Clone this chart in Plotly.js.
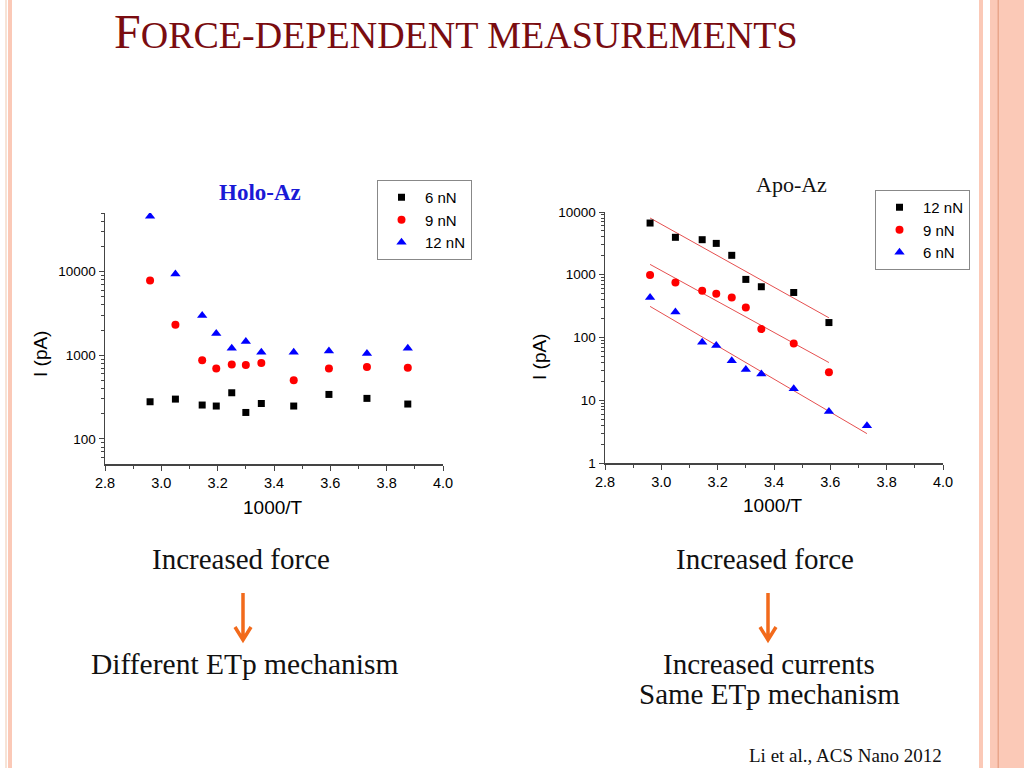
<!DOCTYPE html>
<html>
<head>
<meta charset="utf-8">
<script src="https://cdn.plot.ly/plotly-3.0.1.min.js"></script>
<style>
  html, body { margin: 0; padding: 0; background: #fff; }
  #chart { width: 1024px; height: 768px; }
</style>
</head>
<body>
<div id="chart"></div>
<script>
// 1000/T positions (same temperatures for every series)
const invT = [2.96, 3.05, 3.145, 3.195, 3.25, 3.30, 3.355, 3.47, 3.595, 3.73, 3.875];

// Holo-Az currents (pA)
const holo6nN = [278, 299, 254, 247, 356, 207, 265, 247, 340, 305, 261];
const holo9nN = [7800, 2310, 871, 692, 773, 766, 809, 501, 692, 724, 711];
const holo12nN = [45700, 9380, 2990, 1820, 1213, 1459, 1087, 1087, 1127, 1047, 1213];

// Apo-Az currents (pA)
const apo12nN = [6670, 3950, 3620, 3160, 2040, 843, 644, 522, 173];
const apo9nN = [988, 755, 556, 497, 435, 301, 136, 80, 28];
const apo6nN = [435, 254, 84, 74.5, 42.5, 30.9, 26.3, 15.2, 6.6, 3.94];

// Apo-Az linear fits (end points)
const fitX12 = [2.96, 3.595], fit12 = [8020, 206];
const fitX9 = [2.96, 3.595], fit9 = [1462, 39.9];
const fitX6 = [2.96, 3.73], fit6 = [313, 2.94];

const BLACK = '#000000', RED = '#ff0000', BLUE = '#0000ff';
const sq = {symbol: 'square', size: 7, color: BLACK};
const ci = {symbol: 'circle', size: 8, color: RED};
const tr = {symbol: 'triangle-up', size: 9, color: BLUE};

function pts(x, y, name, marker, xa, ya, legend) {
    return {x: x, y: y, name: name, mode: 'markers', type: 'scatter',
            marker: marker, xaxis: xa, yaxis: ya, legend: legend};
}
function fit(x, y) {
    return {x: x, y: y, mode: 'lines', type: 'scatter', showlegend: false,
            line: {color: '#e23b3b', width: 0.9}, xaxis: 'x2', yaxis: 'y2', hoverinfo: 'skip'};
}

const traces = [
    pts(invT, holo6nN, '6 nN', sq, 'x', 'y', 'legend'),
    pts(invT, holo9nN, '9 nN', ci, 'x', 'y', 'legend'),
    pts(invT, holo12nN, '12 nN', tr, 'x', 'y', 'legend'),
    fit(fitX12, fit12),
    fit(fitX9, fit9),
    fit(fitX6, fit6),
    pts(invT.slice(0, apo12nN.length), apo12nN, '12 nN', sq, 'x2', 'y2', 'legend2'),
    pts(invT.slice(0, apo9nN.length), apo9nN, '9 nN', ci, 'x2', 'y2', 'legend2'),
    pts(invT.slice(0, apo6nN.length), apo6nN, '6 nN', tr, 'x2', 'y2', 'legend2')
];

const sans = 'Liberation Sans, Arial, sans-serif';
const serif = 'Liberation Serif, Times New Roman, serif';
function xax(domain, anchor) {
    return {domain: domain, anchor: anchor, range: [2.8, 4.0], dtick: 0.2, tickformat: '.1f',
            showgrid: false, zeroline: false, showline: true, linecolor: '#444', linewidth: 1.5,
            ticks: 'outside', ticklen: 5, tickwidth: 1, tickcolor: '#444',
            tickfont: {family: sans, size: 14.5, color: '#000'},
            minor: {dtick: 0.1, ticks: 'outside', ticklen: 3, tickcolor: '#444'}};
}
function yax(domain, anchor, range) {
    return {domain: domain, anchor: anchor, type: 'log', range: range, dtick: 1,
            tickformat: 'd', showgrid: false, zeroline: false, showline: true,
            linecolor: '#444', linewidth: 1.5, ticks: 'outside', ticklen: 5, tickwidth: 1,
            tickcolor: '#444', tickfont: {family: sans, size: 13.5, color: '#000'},
            minor: {dtick: 'D1', ticks: 'outside', ticklen: 3, tickcolor: '#444'}};
}
function px(v) { return v / 1024; }
function py(v) { return 1 - v / 768; }

function note(text, x, y, size, extra) {
    return Object.assign({text: text, x: px(x), y: py(y), xref: 'paper', yref: 'paper',
            showarrow: false, xanchor: 'center', yanchor: 'middle',
            font: {family: serif, size: size, color: '#111'}}, extra || {});
}
function label(text, x, y, angle) {
    return note(text, x, y, 19, {textangle: angle || 0, font: {family: sans, size: 19, color: '#000'}});
}

const PINK = '#fbc9b7';
function band(x0, x1, color) {
    return {type: 'rect', xref: 'paper', yref: 'paper', x0: px(x0), x1: px(x1), y0: 0, y1: 1,
            fillcolor: color, line: {width: 0}, layer: 'below'};
}
function arrow(x, y0, y1) {
    const path = 'M' + px(x) + ',' + py(y0) + ' L' + px(x) + ',' + py(y1) +
        ' M' + px(x - 8) + ',' + py(y1 - 13) + ' L' + px(x) + ',' + py(y1) + ' L' + px(x + 8) + ',' + py(y1 - 13);
    return {type: 'path', xref: 'paper', yref: 'paper', path: path,
            line: {color: '#f26a1b', width: 3.5}};
}

const legendBase = {bgcolor: '#fff', bordercolor: '#888', borderwidth: 1,
    font: {family: sans, size: 15, color: '#000'}, xanchor: 'left', yanchor: 'top',
    itemwidth: 37, tracegroupgap: 0};

const layout = {
    width: 1024, height: 768,
    margin: {l: 0, r: 0, t: 0, b: 0},
    paper_bgcolor: '#fff', plot_bgcolor: 'rgba(0,0,0,0)',
    showlegend: true,
    xaxis: xax([px(105), px(443)], 'y'),
    yaxis: yax([py(464), py(213)], 'x', [1.7, 4.7]),
    xaxis2: xax([px(605), px(943)], 'y2'),
    yaxis2: yax([py(463), py(212)], 'x2', [0, 4]),
    legend: Object.assign({x: px(377), y: py(180)}, legendBase),
    legend2: Object.assign({x: px(875), y: py(190)}, legendBase),
    shapes: [
        band(5, 7, '#f7e3d6'),
        band(8, 12, PINK),
        band(979, 983, PINK),
        band(990, 1024, PINK),
        band(997.5, 999, '#e9a68b'),
        arrow(243, 593, 640),
        arrow(768, 593, 640)
    ],
    annotations: [
        note('F<span style="font-size:38px">ORCE-DEPENDENT MEASUREMENTS</span>', 112, 32, 48,
             {xanchor: 'left', font: {family: serif, size: 48, color: '#7a0c10'}}),
        note('<b>Holo-Az</b>', 260, 193, 23, {font: {family: serif, size: 23, color: '#1a1ad6'}}),
        note('Apo-Az', 791, 185, 22),
        label('I (pA)', 40, 354, -90),
        label('I (pA)', 539, 357, -90),
        label('1000/T', 273, 507),
        label('1000/T', 773, 505),
        note('Increased force', 241, 559, 29),
        note('Different ETp mechanism', 245, 664, 29.5),
        note('Increased force', 765, 559, 29),
        note('Increased currents', 769, 664, 29),
        note('Same ETp mechanism', 769, 694, 29),
        note('Li et al., ACS Nano 2012', 845, 755, 19)
    ]
};

Plotly.newPlot('chart', traces, layout, {staticPlot: true, displayModeBar: false});
</script>
</body>
</html>
